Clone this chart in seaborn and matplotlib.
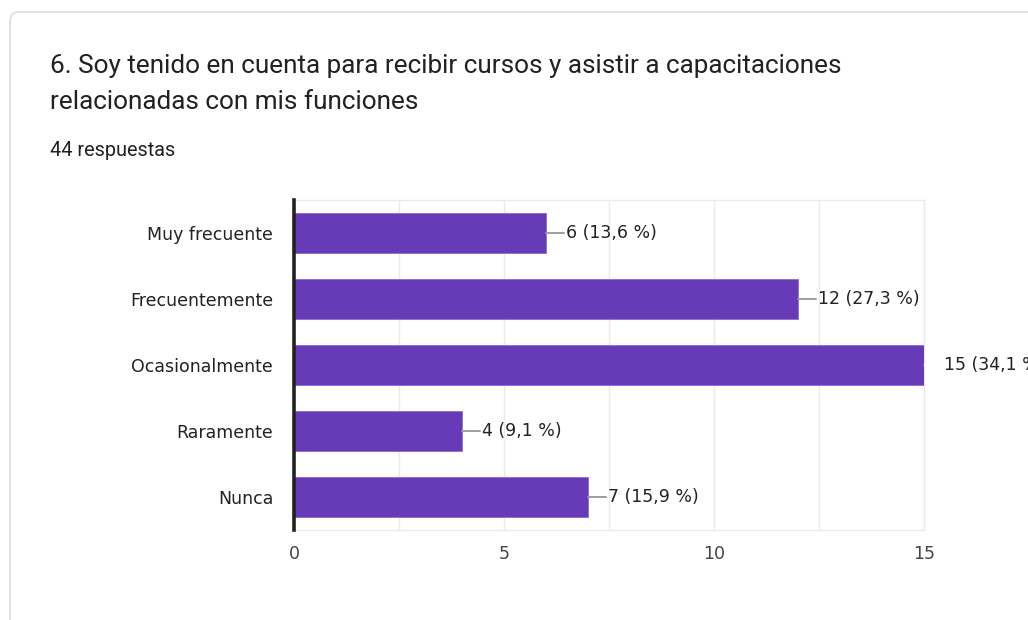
import matplotlib
matplotlib.use("Agg")
import matplotlib.pyplot as plt
from matplotlib.patches import FancyBboxPatch
from matplotlib.transforms import offset_copy
import seaborn as sns
import pandas as pd

# Survey answers
categories = ["Muy frecuente", "Frecuentemente", "Ocasionalmente", "Raramente", "Nunca"]
counts = [6, 12, 15, 4, 7]
percent_labels = ["13,6", "27,3", "34,1", "9,1", "15,9"]
x_ticks = [0, 5, 10, 15]
title_lines = ["6. Soy tenido en cuenta para recibir cursos y asistir a capacitaciones",
               "relacionadas con mis funciones"]
subtitle = "44 respuestas"

BAR = "#673ab7"
W, H = 1028, 620

sns.set_theme(style="white")
plt.rcParams["font.family"] = ["DejaVu Sans"]

fig = plt.figure(figsize=(W / 100, H / 100), dpi=100)
fig.patch.set_facecolor("white")

# Card background with rounded border
bg = fig.add_axes([0, 0, 1, 1])
bg.set_xlim(0, W)
bg.set_ylim(H, 0)
bg.axis("off")
card = FancyBboxPatch((10, 12), W + 40, H + 40,
                      boxstyle="round,pad=0,rounding_size=9",
                      facecolor="white", edgecolor="#dadce0", linewidth=1.2)
bg.add_patch(card)

bg.text(50, 66, title_lines[0], fontsize=18.8, family="Roboto", color="#202124", va="center")
bg.text(50, 102, title_lines[1], fontsize=18.8, family="Roboto", color="#202124", va="center")
bg.text(50, 150, subtitle, fontsize=14.3, family="Roboto", color="#202124", va="center")

# Chart area in pixel terms
left, right, top, bottom = 294, 924, 200, 530
ax = fig.add_axes([left / W, 1 - bottom / H, (right - left) / W, (bottom - top) / H])
ax.set_facecolor("none")

df = pd.DataFrame({"categoria": categories, "n": counts})
sns.barplot(data=df, y="categoria", x="n", order=categories, color=BAR,
            width=0.6, orient="h", ax=ax, saturation=1,
            edgecolor="#8e6bd0", linewidth=0.6, zorder=3)

xmax = 15
ax.set_xlim(0, xmax)
ax.set_ylim(len(categories) - 0.5, -0.5)
ax.set_xlabel("")
ax.set_ylabel("")

for gx in [2.5, 5, 7.5, 10, 12.5, 15]:
    ax.axvline(gx, color="#ebebeb", linewidth=1, zorder=1)

ax.set_xticks(x_ticks)
ax.set_xticklabels([str(t) for t in x_ticks])
ax.tick_params(axis="x", length=0, pad=11, labelsize=12.5, labelcolor="#444444")
ax.tick_params(axis="y", length=0, pad=15, labelsize=12.5, labelcolor="#222222")

for side in ["top", "right", "bottom"]:
    ax.spines[side].set_color("#ebebeb")
    ax.spines[side].set_linewidth(1)
ax.spines["left"].set_color("#222222")
ax.spines["left"].set_linewidth(2.6)
ax.spines["left"].set_zorder(5)

# Value labels with short leader lines (leaders stay inside the plot area)
px = xmax / (right - left)
for i, (v, p) in enumerate(zip(counts, percent_labels)):
    label = f"{v} ({p} %)"
    ax.plot([v, v + 18 * px], [i, i], color="#9e9e9e", linewidth=1.4,
            zorder=4, clip_on=True)
    tr = offset_copy(ax.transData, fig=fig, x=20, y=0, units="dots")
    ax.text(v, i, label, transform=tr, va="center", ha="left",
            fontsize=12.5, color="#222222", clip_on=False)

fig.savefig("out.png", dpi=100)
